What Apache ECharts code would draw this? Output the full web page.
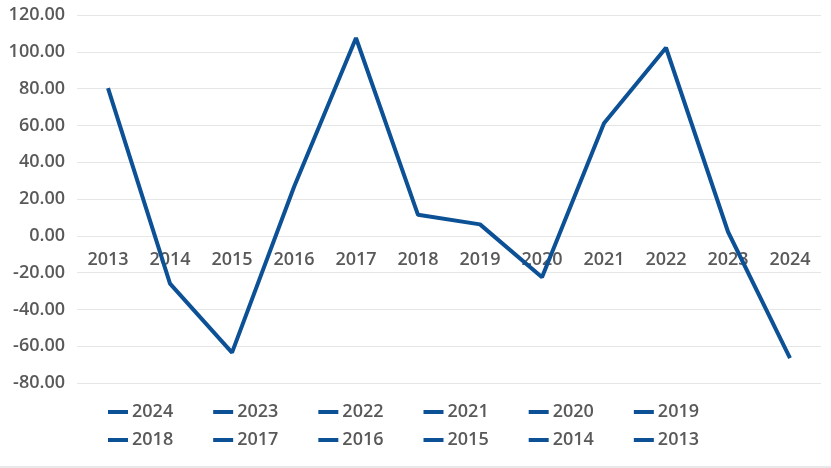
<!DOCTYPE html>
<html>
<head>
<meta charset="utf-8">
<script src="https://cdn.jsdelivr.net/npm/echarts@6/dist/echarts.min.js"></script>
<style>html,body{margin:0;padding:0;background:#fff;}#c{width:831px;height:468px;}</style>
</head>
<body>
<div id="c"></div>
<script>
var categories = ['2013','2014','2015','2016','2017','2018','2019','2020','2021','2022','2023','2024'];
var values = [80.3, -26.0, -63.5, 26.5, 107.5, 11.4, 6.2, -22.5, 61.2, 102.2, 2.2, -66.5];
var legendRow1 = ['2024','2023','2022','2021','2020','2019'];
var legendRow2 = ['2018','2017','2016','2015','2014','2013'];
var yTicks = {min: -80, max: 120, interval: 20};

var lineColor = '#0c5195';
var textColor = '#595959';
var font = '"Open Sans", "Noto Sans", sans-serif';

var series = [{
  name: 'main',
  type: 'line',
  data: values,
  symbol: 'none',
  z: 3,
  lineStyle: {color: lineColor, width: 4},
  itemStyle: {color: lineColor}
}, {
  // category labels placed on the zero line (axis crosses at 0)
  name: 'axisLabels',
  type: 'scatter',
  data: categories.map(function (c) { return [c, 0]; }),
  symbolSize: 0,
  silent: true,
  z: 2,
  label: {show: true, position: 'bottom', distance: 15,
    formatter: function (p) { return p.value[0]; },
    color: textColor, fontSize: 18, fontWeight: 600, fontFamily: font,
    textBorderWidth: 0, textBorderColor: 'transparent', opacity: 1}
}];
legendRow1.concat(legendRow2).forEach(function (n) {
  series.push({name: n, type: 'line', data: [], symbol: 'none',
    lineStyle: {color: lineColor, width: 4}, itemStyle: {color: lineColor}});
});

function legend(data, top) {
  return {
    data: data, top: top, left: 103, orient: 'horizontal', padding: 5,
    icon: 'rect', itemWidth: 20, itemHeight: 4, itemGap: 40,
    textStyle: {color: textColor, fontSize: 18, fontWeight: 600, fontFamily: font, padding: [0,0,0,-1]},
    selectedMode: false
  };
}

var chart = echarts.init(document.getElementById('c'));
chart.setOption({
  animation: false,
  backgroundColor: '#fff',
  grid: {left: 77, right: 10, top: 15, bottom: 85, containLabel: false},
  legend: [legend(legendRow1, 398), legend(legendRow2, 426)],
  xAxis: {
    type: 'category', data: categories, boundaryGap: true,
    axisLine: {show: false}, axisTick: {show: false}, axisLabel: {show: false}
  },
  yAxis: {
    type: 'value', min: yTicks.min, max: yTicks.max, interval: yTicks.interval,
    axisLine: {show: false}, axisTick: {show: false},
    splitLine: {lineStyle: {color: '#e6e6e6', width: 1}},
    axisLabel: {color: textColor, fontSize: 18, fontWeight: 600, fontFamily: font, margin: 12,
      formatter: function (v) { return v.toFixed(2); }}
  },
  graphic: [{type: 'rect', left: 0, bottom: 0, shape: {width: 831, height: 2}, style: {fill: '#e8e8e8'}, silent: true}],
  series: series
});
</script>
</body>
</html>
